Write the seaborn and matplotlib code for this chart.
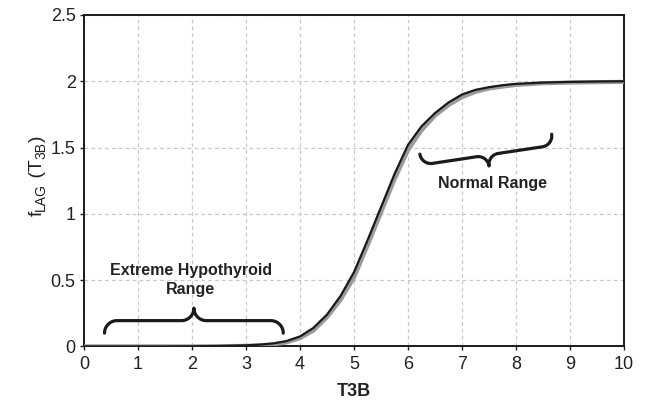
import numpy as np
import pandas as pd
import matplotlib
matplotlib.use("Agg")
import matplotlib.pyplot as plt
import seaborn as sns

# ---- data ----
x_fit = [0, 0.5, 1, 1.5, 2, 2.5, 3, 3.25, 3.5, 3.75, 4, 4.25, 4.5, 4.75,
         5, 5.25, 5.5, 5.75, 6, 6.25, 6.5, 6.75, 7, 7.25, 7.5, 7.75, 8,
         8.5, 9, 9.5, 10]
y_fit = [0.0, 0.0, 0.0, 0.0, 0.001, 0.003, 0.008, 0.013, 0.022, 0.04, 0.075,
         0.14, 0.24, 0.38, 0.56, 0.80, 1.05, 1.30, 1.52, 1.66, 1.76, 1.84,
         1.90, 1.935, 1.955, 1.97, 1.98, 1.99, 1.995, 1.998, 2.0]
y_data = [0.0, 0.0, 0.0, 0.0, 0.0, 0.001, 0.004, 0.008, 0.015, 0.03, 0.062,
          0.12, 0.22, 0.35, 0.52, 0.76, 1.01, 1.26, 1.48, 1.63, 1.74, 1.82,
          1.88, 1.92, 1.945, 1.96, 1.972, 1.985, 1.99, 1.993, 1.995]

x_ticks = list(range(0, 11))
y_ticks = [0, 0.5, 1, 1.5, 2, 2.5]
y_tick_labels = ["0", "0.5", "1", "1.5", "2", "2.5"]

label_hypo = "Extreme Hypothyroid\nRange"
label_normal = "Normal Range"
x_label = "T3B"
# y label pieces: (text, is_subscript)
y_label_parts = [("f", False), ("LAG", True), (" (T", False), ("3B", True), (")", False)]

# ---- style ----
sns.set_theme(style="white")
plt.rcParams["font.family"] = ["Liberation Sans", "DejaVu Sans"]

fig = plt.figure(figsize=(6.46, 4.04), dpi=100)
ax = fig.add_axes([0.130, 0.1426, 0.836, 0.8204])

df = pd.DataFrame({"x": x_fit, "fit": y_fit, "data": y_data})
sns.lineplot(data=df, x="x", y="data", ax=ax, color="#9a9a9a", lw=3.0,
             solid_capstyle="round", zorder=3)
sns.lineplot(data=df, x="x", y="fit", ax=ax, color="#1a1a1a", lw=1.6,
             solid_capstyle="round", zorder=4)

ax.set_xlim(0, 10)
ax.set_ylim(0, 2.5)
ax.set_xticks(x_ticks)
ax.set_yticks(y_ticks)
ax.set_yticklabels(y_tick_labels)
ax.tick_params(axis="both", labelsize=13, length=3, width=1, color="#222222",
               direction="out", labelcolor="#222222")
ax.tick_params(axis="x", pad=4)
ax.tick_params(axis="y", pad=3)
ax.tick_params(axis="both", which="both", bottom=True, left=True)

ax.grid(True, color="#c8c8c8", linestyle=(0, (3, 2.5)), linewidth=0.9)
ax.set_axisbelow(True)
for s in ax.spines.values():
    s.set_visible(True)
    s.set_color("#1a1a1a")
    s.set_linewidth(1.4)

ax.set_xlabel(x_label, fontsize=13, fontweight="bold", color="#222222", labelpad=7)
ax.set_ylabel("")

# ---- y label built from pieces (larger subscripts as in reference) ----
fig.canvas.draw()
renderer = fig.canvas.get_renderer()
ypos = 404 - 216  # bottom of label, pixels from bottom
x_main = 37
for txt, sub in y_label_parts:
    t = fig.text(x_main + (4 if sub else 0), ypos, txt, rotation=90,
                 ha="center", va="bottom", fontsize=10 if sub else 14,
                 color="#222222", transform=None)
    bb = t.get_window_extent(renderer)
    ypos += bb.height


def brace(ax, p1, p2, r, sign=1):
    """Curly brace drawn in display space between p1 and p2 (data coords)."""
    a = ax.transData.transform(p1)
    b = ax.transData.transform(p2)
    d = b - a
    L = np.hypot(*d)
    e = d / L
    n = np.array([-e[1], e[0]]) * sign
    pts = []
    t = np.linspace(np.pi, np.pi / 2, 20)
    pts += list(zip(r + r * np.cos(t), r * np.sin(t)))
    t = np.linspace(-np.pi / 2, 0, 20)
    pts += list(zip(L / 2 - r + r * np.cos(t), 2 * r + r * np.sin(t)))
    t = np.linspace(np.pi, 1.5 * np.pi, 20)
    pts += list(zip(L / 2 + r + r * np.cos(t), 2 * r + r * np.sin(t)))
    t = np.linspace(np.pi / 2, 0, 20)
    pts += list(zip(L - r + r * np.cos(t), r * np.sin(t)))
    pts = np.array(pts)
    disp = a + np.outer(pts[:, 0], e) + np.outer(pts[:, 1], n)
    dat = ax.transData.inverted().transform(disp)
    ax.plot(dat[:, 0], dat[:, 1], color="#1a1a1a", lw=2.3,
            solid_capstyle="round", solid_joinstyle="round", zorder=5)


brace(ax, (0.38, 0.10), (3.69, 0.10), 12.5, sign=1)
brace(ax, (6.22, 1.45), (8.66, 1.60), 11.0, sign=-1)
ax.set_xlim(0, 10)
ax.set_ylim(0, 2.5)

ax.text(1.98, 0.50, label_hypo, ha="center", va="center", fontsize=11.5,
        fontweight="bold", color="#222222", linespacing=1.3)
ax.text(7.57, 1.23, label_normal, ha="center", va="center", fontsize=11.5,
        fontweight="bold", color="#222222")

fig.savefig("out.png", dpi=100)
